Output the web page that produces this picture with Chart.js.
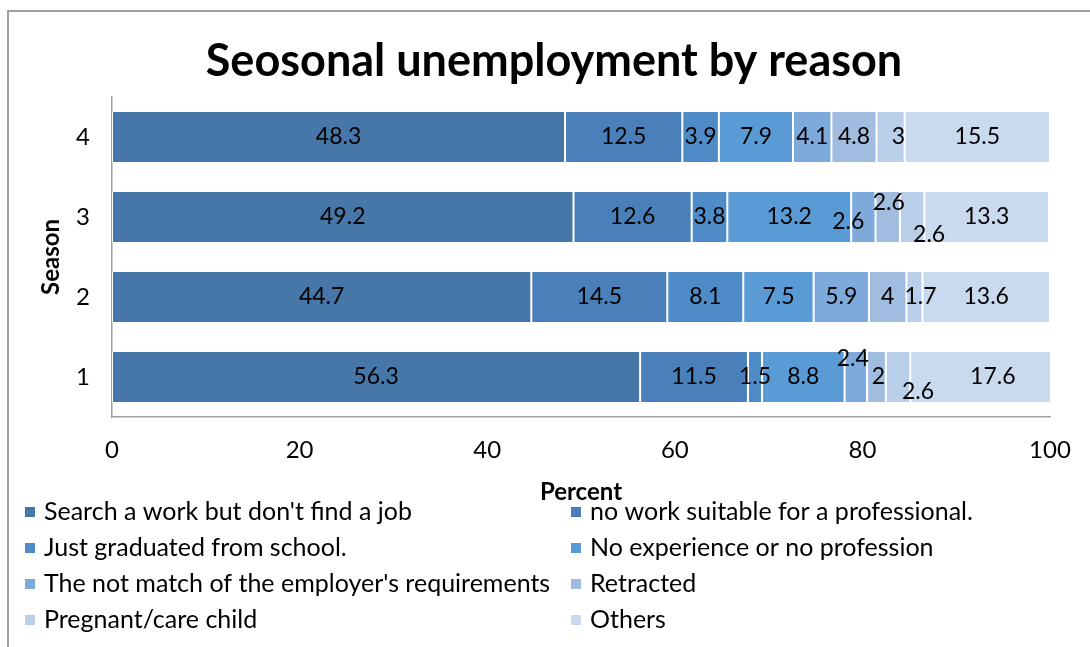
<!DOCTYPE html>
<html>
<head>
<meta charset="utf-8">
<title>Seosonal unemployment by reason</title>
<script src="https://cdn.jsdelivr.net/npm/chart.js@4.4.1/dist/chart.umd.min.js"></script>
<style>
  html, body { margin: 0; padding: 0; background: #fff; }
  #wrap { position: relative; width: 1090px; height: 647px; }
</style>
</head>
<body>
<div id="wrap"><canvas id="seasonChart" width="1090" height="647"></canvas></div>
<script>
const chartTitle = "Seosonal unemployment by reason";
const seasons = ["1", "2", "3", "4"];
const reasons = [
    "Search a work but don't find a job",
    "no work suitable for a professional.",
    "Just graduated from school.",
    "No experience or no profession",
    "The not match of the employer's requirements",
    "Retracted",
    "Pregnant/care child",
    "Others"
];
// values per season 1..4
const searchWork     = [56.3, 44.7, 49.2, 48.3];
const noSuitableWork = [11.5, 14.5, 12.6, 12.5];
const justGraduated  = [1.5, 8.1, 3.8, 3.9];
const noExperience   = [8.8, 7.5, 13.2, 7.9];
const notMatch       = [2.4, 5.9, 2.6, 4.1];
const retracted      = [2, 4, 2.6, 4.8];
const pregnantCare   = [2.6, 1.7, 2.6, 3];
const others         = [17.6, 13.6, 13.3, 15.5];
const xTicks = [0, 20, 40, 60, 80, 100];

const seriesValues = [searchWork, noSuitableWork, justGraduated, noExperience,
                      notMatch, retracted, pregnantCare, others];
const colors = ["#4677a8", "#4a80b9", "#4f8bc7", "#5a9bd5",
                "#7eaadb", "#a0bde0", "#b9cee8", "#cadaee"];

// nudges for crowded value labels: "series:seasonIndex" -> [dx, dy]
const labelNudge = {
    "4:0": [-3, -18], "5:0": [2, 0], "6:0": [20, 15],
    "6:1": [6, 0],
    "4:2": [-15, 5], "5:2": [1, -14], "6:2": [17, 18],
    "6:3": [8, 0]
};

const FONT = "Lato, 'DejaVu Sans', sans-serif";

// outer frame + heading (the frame runs past the right edge of the canvas)
const frame = {
    id: "frame",
    beforeDraw(chart) {
        const ctx = chart.ctx;
        ctx.save();
        ctx.fillStyle = "#fff";
        ctx.fillRect(0, 0, chart.width, chart.height);
        ctx.strokeStyle = "#a0a0a0";
        ctx.lineWidth = 2;
        ctx.strokeRect(8, 11, 1092, 900);
        ctx.fillStyle = "#000";
        ctx.font = "bold 45px " + FONT;
        ctx.textAlign = "center";
        ctx.textBaseline = "middle";
        ctx.fillText(chartTitle, 554, 61);
        ctx.restore();
    }
};

const valueLabels = {
    id: "valueLabels",
    afterDatasetsDraw(chart) {
        const ctx = chart.ctx;
        ctx.save();
        ctx.font = "23px " + FONT;
        ctx.fillStyle = "#000";
        ctx.textAlign = "center";
        ctx.textBaseline = "middle";
        chart.data.datasets.forEach((ds, di) => {
            chart.getDatasetMeta(di).data.forEach((bar, i) => {
                const p = bar.getProps(["x", "y", "base"], true);
                const n = labelNudge[di + ":" + i] || [0, 0];
                ctx.fillText(String(ds.data[i]), (p.x + p.base) / 2 + n[0], p.y + n[1]);
            });
        });
        ctx.restore();
    }
};

const twoColLegend = {
    id: "twoColLegend",
    afterDraw(chart) {
        const ctx = chart.ctx;
        const rows = [512, 548, 584, 620];
        const cols = [25, 571];
        ctx.save();
        ctx.font = "25px " + FONT;
        ctx.textBaseline = "middle";
        ctx.textAlign = "left";
        chart.data.datasets.forEach((ds, i) => {
            const x = cols[i % 2];
            const y = rows[Math.floor(i / 2)];
            ctx.fillStyle = ds.backgroundColor;
            ctx.fillRect(x, y - 5, 10, 10);
            ctx.fillStyle = "#000";
            ctx.fillText(ds.label, x + 19, y);
        });
        ctx.restore();
    }
};

new Chart(document.getElementById("seasonChart"), {
    type: "bar",
    data: {
        labels: seasons,
        datasets: reasons.map((r, i) => ({
            label: r,
            data: seriesValues[i],
            backgroundColor: colors[i],
            borderColor: "#ffffff",
            borderWidth: { left: 1, right: 1, top: 0, bottom: 0 },
            borderSkipped: false,
            barPercentage: 0.625,
            categoryPercentage: 1
        }))
    },
    options: {
        indexAxis: "y",
        responsive: false,
        animation: false,
        devicePixelRatio: 1,
        layout: { padding: { left: 20, right: 40, top: 97, bottom: 140 } },
        plugins: {
            legend: { display: false },
            tooltip: { enabled: false },
            title: { display: false }
        },
        scales: {
            x: {
                stacked: true,
                min: 0,
                max: 100,
                afterBuildTicks: s => { s.ticks = xTicks.map(v => ({ value: v })); },
                afterFit: s => { s.height = 90; },
                grid: { display: false, drawTicks: false },
                border: { display: true, color: "#a0a0a0", width: 1.5 },
                ticks: { color: "#000", padding: 19, font: { family: FONT, size: 24 } },
                title: {
                    display: true,
                    text: "Percent",
                    color: "#000",
                    font: { family: FONT, size: 24, weight: "bold" },
                    padding: { top: 18, bottom: 0 }
                }
            },
            y: {
                stacked: true,
                reverse: true,
                afterFit: s => { s.width = 92; },
                grid: { display: false, drawTicks: false },
                border: { display: true, color: "#a0a0a0", width: 1.5 },
                ticks: { color: "#000", padding: 22, font: { family: FONT, size: 24 } },
                title: {
                    display: true,
                    text: "Season",
                    color: "#000",
                    font: { family: FONT, size: 24, weight: "bold" },
                    padding: { top: 17, bottom: 0 }
                }
            }
        }
    },
    plugins: [frame, valueLabels, twoColLegend]
});
</script>
</body>
</html>
